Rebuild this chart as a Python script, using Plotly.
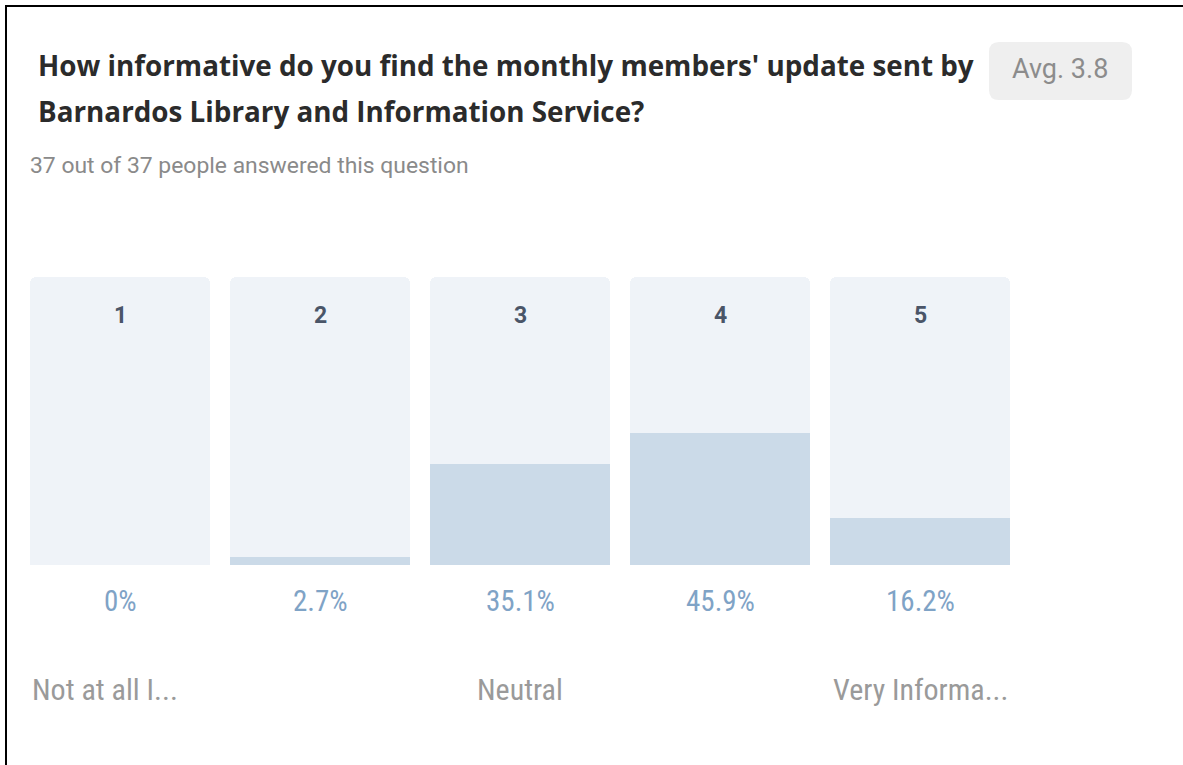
import plotly.graph_objects as go

W, H = 1183, 765

categories = ["1", "2", "3", "4", "5"]
percentages = [0.0, 2.7, 35.1, 45.9, 16.2]
pct_labels = ["0%", "2.7%", "35.1%", "45.9%", "16.2%"]
scale_labels = ["Not at all I...", "", "Neutral", "", "Very Informa..."]
title_lines = ["How informative do you find the monthly members' update sent by",
               "Barnardos Library and Information Service?"]
subtitle = "37 out of 37 people answered this question"
avg_text = "Avg. 3.8"
full_scale = [100.0] * len(categories)

def px_x(p):
    return p / W

def px_y(p):
    return 1 - p / H

xpos = list(range(len(categories)))

fig = go.Figure()
fig.add_trace(go.Bar(
    x=xpos, y=full_scale, width=0.9,
    marker=dict(color="#eff3f8", line=dict(width=0), cornerradius=6),
    hoverinfo="skip", showlegend=False,
))
fig.add_trace(go.Bar(
    x=xpos, y=percentages, width=0.9,
    marker=dict(color="#cbdae8", line=dict(width=0), cornerradius=4),
    hoverinfo="skip", showlegend=False,
))

annotations = []
for i, c in enumerate(categories):
    annotations.append(dict(
        x=i, y=px_y(315), xref="x", yref="paper", text="<b>" + c + "</b>", showarrow=False,
        font=dict(family="Roboto, Arial, sans-serif", size=23, color="#4a5568"),
        xanchor="center", yanchor="middle"))
for i, t in enumerate(pct_labels):
    annotations.append(dict(
        x=i, y=px_y(601), xref="x", yref="paper", text=t, showarrow=False,
        font=dict(family="Roboto Condensed, Roboto, Arial, sans-serif", size=29, color="#7fa3c6"),
        xanchor="center", yanchor="middle"))
for i, t in enumerate(scale_labels):
    if not t:
        continue
    if i == 0:
        xa, xv = "left", i - 0.45
    elif i == len(scale_labels) - 1:
        xa, xv = "right", i + 0.45
    else:
        xa, xv = "center", i
    annotations.append(dict(
        x=xv, y=px_y(689), xref="x", yref="paper", text=t, showarrow=False,
        font=dict(family="Roboto Condensed, Roboto, Arial, sans-serif", size=30, color="#9a9a9a"),
        xanchor=xa, yanchor="middle"))
for line, yy in zip(title_lines, [65, 111]):
    annotations.append(dict(
        x=px_x(36), y=px_y(yy), xref="paper", yref="paper", text="<b>" + line + "</b>",
        showarrow=False, xanchor="left", yanchor="middle",
        font=dict(family="Open Sans, Arial, sans-serif", size=27.8, color="#2b2b2b")))
annotations.append(dict(
    x=px_x(28), y=px_y(165), xref="paper", yref="paper", text=subtitle,
    showarrow=False, xanchor="left", yanchor="middle",
    font=dict(family="Roboto, Arial, sans-serif", size=22.9, color="#8a8a8a")))
annotations.append(dict(
    x=px_x(1060), y=px_y(69), xref="paper", yref="paper", text=avg_text,
    showarrow=False, xanchor="center", yanchor="middle",
    font=dict(family="Roboto, Arial, sans-serif", size=27, color="#8c8c8c")))

def rounded_rect(x0, y0, x1, y1, r):
    X = lambda v: px_x(v)
    Y = lambda v: px_y(v)
    return (f"M {X(x0 + r)} {Y(y0)} L {X(x1 - r)} {Y(y0)} "
            f"Q {X(x1)} {Y(y0)} {X(x1)} {Y(y0 + r)} L {X(x1)} {Y(y1 - r)} "
            f"Q {X(x1)} {Y(y1)} {X(x1 - r)} {Y(y1)} L {X(x0 + r)} {Y(y1)} "
            f"Q {X(x0)} {Y(y1)} {X(x0)} {Y(y1 - r)} L {X(x0)} {Y(y0 + r)} "
            f"Q {X(x0)} {Y(y0)} {X(x0 + r)} {Y(y0)} Z")

shapes = [
    dict(type="path", xref="paper", yref="paper", path=rounded_rect(989, 42, 1132, 100, 10),
         fillcolor="#efefef", line=dict(width=0), layer="below"),
    dict(type="line", xref="paper", yref="paper", x0=px_x(6), x1=px_x(6), y0=px_y(5), y1=0,
         line=dict(color="#000000", width=2)),
    dict(type="line", xref="paper", yref="paper", x0=px_x(5), x1=1, y0=px_y(6), y1=px_y(6),
         line=dict(color="#000000", width=2)),
]

fig.update_layout(
    width=W, height=H,
    margin=dict(l=0, r=0, t=0, b=0),
    paper_bgcolor="white", plot_bgcolor="white",
    barmode="overlay", bargap=0,
    xaxis=dict(domain=[px_x(30), px_x(1010)], range=[-0.45, 4.45], visible=False, fixedrange=True),
    yaxis=dict(domain=[px_y(565), px_y(277)], range=[0, 100], visible=False, fixedrange=True),
    annotations=annotations, shapes=shapes, showlegend=False,
)

fig.write_html("out.html", config={"displayModeBar": False},
               post_script="document.body.style.margin='0px';document.body.style.overflow='hidden';")
